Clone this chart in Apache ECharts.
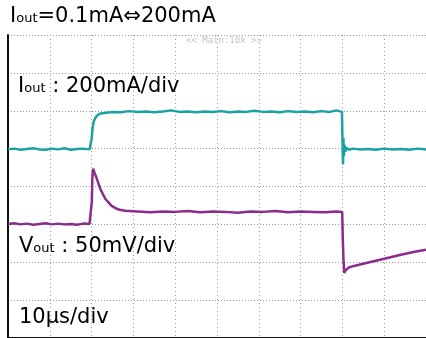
<!DOCTYPE html>
<html>
<head>
<meta charset="utf-8">
<script src="https://cdn.jsdelivr.net/npm/echarts@6/dist/echarts.min.js"></script>
<style>
html,body{margin:0;padding:0;background:#fff;}
#chart{width:426px;height:338px;}
</style>
</head>
<body>
<div id="chart"></div>
<script>
// time axis in µs (10 µs/div), vertical axis in divisions (0..8)
const xTicks = [0, 10, 20, 30, 40, 50, 60, 70, 80, 90, 100];
const yTicks = [0, 1, 2, 3, 4, 5, 6, 7, 8];

// Iout trace (cyan), [µs, div]
const ioutTime = [0, 1.5, 3, 4.5, 6, 7.5, 9, 10.5, 12, 13.5, 15, 16.5, 18, 19.5, 19.85,
  20.0, 20.2, 20.5, 21.0, 21.5, 22.2, 23.5, 25, 27, 29, 31, 33, 35, 37, 39, 41, 43, 45, 47,
  49, 51, 53, 55, 57, 59, 61, 63, 65, 67, 69, 71, 73, 75, 77, 78.5, 79.9,
  80.05, 80.15, 80.25, 80.35, 80.5, 80.7, 81.0, 81.5, 82.5, 84, 86, 88, 90, 92, 94, 96, 98, 100];
const ioutVal = [4.98, 5.00, 4.97, 4.99, 5.01, 4.98, 4.97, 5.00, 4.98, 5.01, 4.97, 4.99, 5.00, 4.98, 4.98,
  5.25, 5.50, 5.72, 5.83, 5.89, 5.93, 5.95, 5.97, 5.96, 5.99, 5.97, 5.98, 5.96, 5.98, 6.01, 5.97, 5.98, 5.96, 5.98,
  5.97, 5.99, 5.96, 5.98, 5.97, 6.00, 5.97, 5.98, 5.96, 5.99, 5.97, 5.98, 5.96, 5.99, 5.97, 6.01, 5.97,
  5.00, 4.58, 5.28, 4.80, 5.10, 4.92, 5.03, 4.97, 5.00, 4.98, 4.99, 4.97, 5.00, 4.98, 4.99, 4.97, 5.00, 4.98];

// Vout trace (purple), [µs, div]
const voutTime = [0, 1.5, 3, 4.5, 6, 7.5, 9, 10.5, 12, 13.5, 15, 16.5, 18, 19.5, 19.9,
  20.05, 20.17, 20.35, 20.75, 21.3, 22.1, 23.3, 24.8, 26.4, 28.0, 31, 34, 37, 40, 43, 46, 49,
  52, 55, 58, 61, 64, 67, 70, 73, 76, 78.5, 79.95,
  80.1, 80.25, 80.45, 80.7, 81.5, 83, 85, 88, 91, 94, 97, 100];
const voutVal = [3.01, 3.03, 3.00, 3.02, 2.99, 3.01, 3.03, 3.00, 3.02, 3.00, 3.01, 2.99, 3.02, 3.01, 3.01,
  3.60, 4.20, 4.47, 4.35, 4.19, 3.93, 3.67, 3.49, 3.39, 3.36, 3.34, 3.32, 3.34, 3.33, 3.35, 3.32, 3.34,
  3.33, 3.31, 3.34, 3.33, 3.35, 3.32, 3.34, 3.33, 3.32, 3.34, 3.33,
  2.60, 2.10, 1.72, 1.78, 1.86, 1.91, 1.96, 2.04, 2.12, 2.20, 2.27, 2.33];

const iout = ioutTime.map((t, i) => [t, ioutVal[i]]);
const vout = voutTime.map((t, i) => [t, voutVal[i]]);

const FONT = 'DejaVu Sans';
const chart = echarts.init(document.getElementById('chart'), null, {renderer: 'canvas'});
const big = {fontFamily: FONT, fontSize: 21, color: '#111', lineHeight: 24, verticalAlign: 'bottom'};
const sub = {fontFamily: FONT, fontSize: 13, color: '#111', lineHeight: 24, verticalAlign: 'bottom', padding: [0, 0, 2, 0]};
function label(left, top, parts) {
  return {
    type: 'text', left: left, top: top, z: 10,
    style: {text: parts, rich: {a: big, b: sub}}
  };
}
chart.setOption({
  animation: false,
  backgroundColor: '#ffffff',
  grid: {left: 8, top: 35, width: 424, height: 305.4, containLabel: false},
  xAxis: {
    type: 'value', min: xTicks[0], max: xTicks[xTicks.length - 1], interval: 10,
    position: 'top',
    axisLine: {show: true, lineStyle: {color: '#111', width: 2}},
    axisTick: {show: false}, axisLabel: {show: false},
    splitLine: {show: true, lineStyle: {color: '#999999', width: 1, type: [1, 3]}}
  },
  yAxis: {
    type: 'value', min: yTicks[0], max: yTicks[yTicks.length - 1], interval: 1,
    axisLine: {show: true, lineStyle: {color: '#111', width: 2}},
    axisTick: {show: false}, axisLabel: {show: false},
    splitLine: {show: true, lineStyle: {color: '#999999', width: 1, type: [1, 2]}}
  },
  series: [
    {type: 'line', data: iout, showSymbol: false, symbol: 'none', lineStyle: {color: '#1ba3a3', width: 2.5}, z: 3},
    {type: 'line', data: vout, showSymbol: false, symbol: 'none', lineStyle: {color: '#8b2b8c', width: 2.5}, z: 4}
  ],
  graphic: [
    label(10, 6, '{a|I}{b|out}{a|=0.1mA⇔200mA}'),
    label(18, 76, '{a|I}{b|out}{a| : 200mA/div}'),
    label(19, 236, '{a|V}{b|out}{a| : 50mV/div}'),
    label(19, 307, '{a|10µs/div}'),
    {type: 'text', left: 186, top: 36, z: 10,
      style: {text: '<< Main:10k >>', fontFamily: 'DejaVu Sans Mono', fontSize: 9, fill: '#c4c4c4'}}
  ]
});
</script>
</body>
</html>
